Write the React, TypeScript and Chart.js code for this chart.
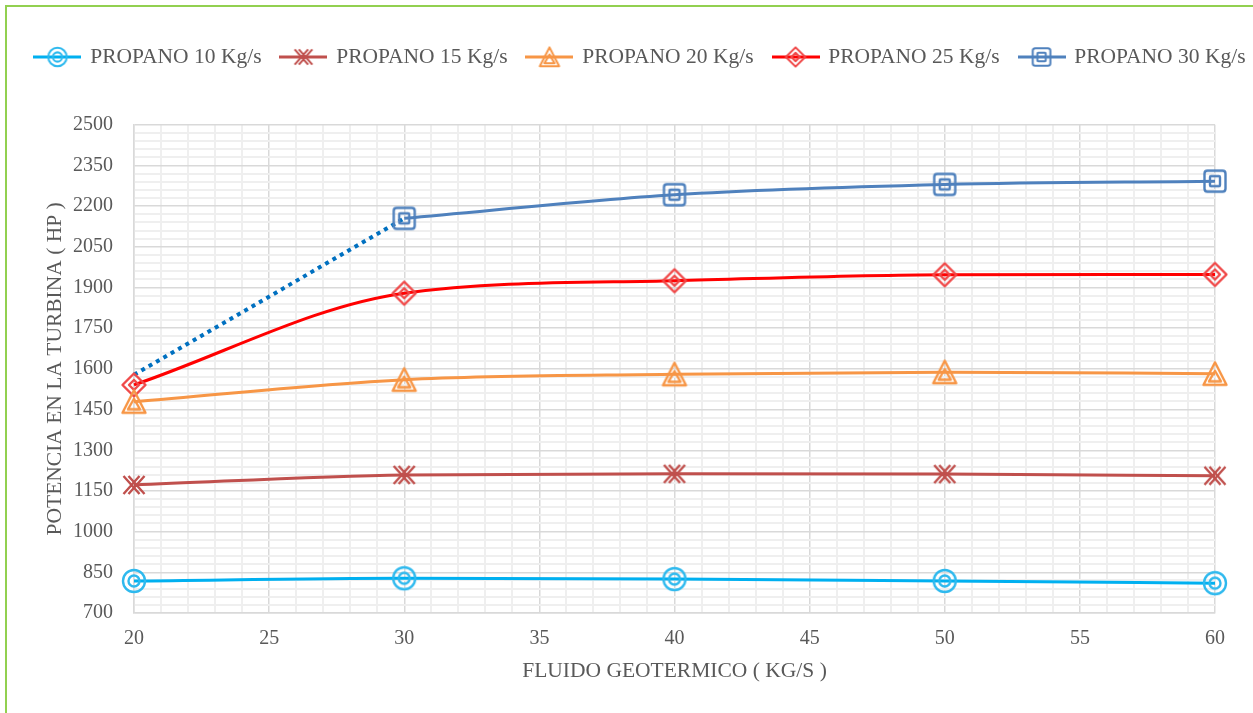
import React, { useEffect, useRef } from 'react';
import { Chart, registerables } from 'chart.js';

Chart.register(...registerables);

// ---- data ----
const fluido = [20, 30, 40, 50, 60];
const propano10 = [818, 828, 825, 818, 810];
const propano15 = [1172, 1209, 1213, 1212, 1206];
const propano20 = [1479, 1560, 1580, 1588, 1582];
const propano25 = [1541, 1879, 1925, 1947, 1948];
const propano30 = [null, 2155, 2242, 2280, 2292];
const propano30Tramo = [1578, 2155, null, null, null];

const seriesLabels = [
  'PROPANO 10 Kg/s',
  'PROPANO 15 Kg/s',
  'PROPANO 20 Kg/s',
  'PROPANO 25 Kg/s',
  'PROPANO 30 Kg/s',
];
const yTickLabels = [700, 850, 1000, 1150, 1300, 1450, 1600, 1750, 1900, 2050, 2200, 2350, 2500];
const xTickLabels = [20, 25, 30, 35, 40, 45, 50, 55, 60];
const yTitle = 'POTENCIA EN LA TURBINA ( HP )';
const xTitle = 'FLUIDO GEOTERMICO ( KG/S )';

// ---- styles ----
const FONT = "'Liberation Serif', 'Times New Roman', serif";
const TEXT = '#595959';
const GRID_MAJOR = '#d9d9d9';
const GRID_MINOR = '#efefef';
const lineColors = ['#00B0F0', '#C0504D', '#F79646', '#FF0000', '#4F81BD'];
const markerColors = ['#2EB9EE', '#C0504D', '#F79646', '#F04848', '#4F81BD'];
type Kind = 'circle' | 'star' | 'triangle' | 'diamond' | 'square';
const markerKinds: Kind[] = ['circle', 'star', 'triangle', 'diamond', 'square'];

function drawShape(ctx: CanvasRenderingContext2D, kind: Kind) {
  const poly = (pts: number[][]) => {
    ctx.beginPath();
    pts.forEach((p, i) => (i ? ctx.lineTo(p[0], p[1]) : ctx.moveTo(p[0], p[1])));
    ctx.closePath();
    ctx.stroke();
  };
  const rrect = (h: number, r: number) => {
    ctx.beginPath();
    ctx.moveTo(-h + r, -h);
    ctx.lineTo(h - r, -h);
    ctx.quadraticCurveTo(h, -h, h, -h + r);
    ctx.lineTo(h, h - r);
    ctx.quadraticCurveTo(h, h, h - r, h);
    ctx.lineTo(-h + r, h);
    ctx.quadraticCurveTo(-h, h, -h, h - r);
    ctx.lineTo(-h, -h + r);
    ctx.quadraticCurveTo(-h, -h, -h + r, -h);
    ctx.closePath();
    ctx.stroke();
  };
  switch (kind) {
    case 'circle':
      ctx.beginPath();
      ctx.arc(0, 0, 11, 0, Math.PI * 2);
      ctx.stroke();
      ctx.beginPath();
      ctx.arc(0, 0, 5.5, 0, Math.PI * 2);
      ctx.stroke();
      break;
    case 'star':
      for (const dx of [-2.5, 2.5]) {
        ctx.beginPath();
        ctx.moveTo(dx - 8, -9);
        ctx.lineTo(dx + 8, 9);
        ctx.moveTo(dx + 8, -9);
        ctx.lineTo(dx - 8, 9);
        ctx.stroke();
      }
      break;
    case 'triangle':
      poly([[0, -11.5], [11.5, 11], [-11.5, 11]]);
      poly([[0, -3], [6, 7.5], [-6, 7.5]]);
      break;
    case 'diamond':
      poly([[0, -11.5], [11.5, 0], [0, 11.5], [-11.5, 0]]);
      poly([[0, -5], [5, 0], [0, 5], [-5, 0]]);
      break;
    case 'square':
      rrect(10.5, 3);
      rrect(5, 1);
      break;
  }
}

function makeMarker(kind: Kind, color: string, scale: number, lineColor?: string, w = 32, h = 32) {
  const c = document.createElement('canvas');
  c.width = w;
  c.height = h;
  const ctx = c.getContext('2d')!;
  if (lineColor) {
    ctx.strokeStyle = lineColor;
    ctx.lineWidth = 3;
    ctx.beginPath();
    ctx.moveTo(0, h / 2);
    ctx.lineTo(w, h / 2);
    ctx.stroke();
  }
  ctx.translate(w / 2, h / 2);
  ctx.scale(scale, scale);
  ctx.strokeStyle = color;
  ctx.lineWidth = 2.4;
  ctx.lineJoin = 'round';
  drawShape(ctx, kind);
  return c;
}

const toPoints = (ys: (number | null)[]) =>
  fluido.map((x, i) => ({ x, y: ys[i] })).filter((p) => p.y !== null);

export default function App() {
  const ref = useRef<HTMLCanvasElement>(null);

  useEffect(() => {
    if (!ref.current) return;
    Chart.defaults.font.family = FONT;
    Chart.defaults.color = TEXT;

    const seriesData = [propano10, propano15, propano20, propano25, propano30];
    const plotMarkers = markerKinds.map((k, i) => makeMarker(k, markerColors[i], 1));
    const legendIcons = markerKinds.map((k, i) => makeMarker(k, markerColors[i], 0.84, lineColors[i], 48, 28));

    const datasets: any[] = seriesData.map((ys, i) => ({
      label: seriesLabels[i],
      data: toPoints(ys),
      borderColor: lineColors[i],
      backgroundColor: lineColors[i],
      borderWidth: 3,
      tension: 0.4,
      cubicInterpolationMode: 'monotone',
      pointStyle: plotMarkers[i],
      pointRadius: 10,
      pointHoverRadius: 10,
      clip: false,
    }));
    datasets.push({
      label: '',
      data: toPoints(propano30Tramo),
      borderColor: '#0070C0',
      borderWidth: 4,
      borderDash: [4, 4.5],
      pointRadius: 0,
      tension: 0,
      clip: false,
    });

    const chart = new Chart(ref.current, {
      type: 'line',
      data: { datasets },
      options: {
        animation: false,
        responsive: false,
        devicePixelRatio: 1,
        layout: { padding: { top: 26.25, left: 0, right: 0, bottom: 0 } },
        plugins: {
          legend: {
            position: 'top',
            labels: {
              usePointStyle: true,
              pointStyleWidth: 44,
              padding: 20,
              color: TEXT,
              font: { size: 21.5, family: FONT },
              generateLabels: (ch: any) =>
                Chart.defaults.plugins.legend.labels
                  .generateLabels(ch)
                  .filter((it: any) => it.datasetIndex < 5)
                  .map((it: any) => ({ ...it, pointStyle: legendIcons[it.datasetIndex] })),
            },
          },
          title: {
            display: true,
            text: '',
            weight: 500,
            font: { size: 10, lineHeight: 1 },
            padding: { top: 18.5, bottom: 18.5 },
          } as any,
          tooltip: { enabled: false },
        },
        scales: {
          x: {
            type: 'linear',
            min: 20,
            max: 60,
            afterFit: (s: any) => {
              s.height = 100;
            },
            ticks: {
              stepSize: 1,
              autoSkip: false,
              maxRotation: 0,
              minRotation: 0,
              padding: 14,
              color: TEXT,
              font: { size: 20 },
              callback: (v: any) => (xTickLabels.includes(Number(v)) ? String(v) : ''),
            },
            grid: {
              drawTicks: false,
              color: (c: any) => (c.tick && xTickLabels.includes(c.tick.value) ? GRID_MAJOR : GRID_MINOR),
              lineWidth: (c: any) => (c.tick && xTickLabels.includes(c.tick.value) ? 1.5 : 2),
            },
            border: { display: true, color: GRID_MAJOR, width: 1.5 },
            title: {
              display: true,
              text: xTitle,
              color: TEXT,
              font: { size: 21.5 },
              padding: { top: 0, bottom: 29 },
            },
          },
          y: {
            type: 'linear',
            min: 700,
            max: 2500,
            afterFit: (s: any) => {
              s.width = 134;
            },
            ticks: {
              stepSize: 30,
              autoSkip: false,
              padding: 21,
              color: TEXT,
              font: { size: 20 },
              callback: (v: any) => (yTickLabels.includes(Number(v)) ? String(v) : ''),
            },
            grid: {
              drawTicks: false,
              color: (c: any) => (c.tick && yTickLabels.includes(c.tick.value) ? GRID_MAJOR : GRID_MINOR),
              lineWidth: (c: any) => (c.tick && yTickLabels.includes(c.tick.value) ? 1.5 : 2),
            },
            border: { display: true, color: GRID_MAJOR, width: 1.5 },
            title: {
              display: true,
              text: yTitle,
              color: TEXT,
              font: { size: 21.5 },
              padding: { top: 42, bottom: 0 },
            },
          },
          yRight: {
            type: 'linear',
            position: 'right',
            display: true,
            afterFit: (s: any) => {
              s.width = 66;
            },
            ticks: { display: false },
            grid: { display: false, drawOnChartArea: false },
            border: { display: false },
          },
        },
      } as any,
    });
    return () => chart.destroy();
  }, []);

  return (
    <div
      style={{
        position: 'fixed',
        left: 0,
        top: 0,
        width: 1253,
        height: 713,
        overflow: 'hidden',
        background: '#ffffff',
      }}
    >
      <div
        style={{
          position: 'absolute',
          left: 5,
          top: 5,
          width: 1400,
          height: 900,
          borderLeft: '2px solid #92D050',
          borderTop: '2px solid #92D050',
        }}
      />
      <canvas
        ref={ref}
        width={1281}
        height={713}
        style={{ position: 'absolute', left: 0, top: 0, width: 1281, height: 713 }}
      />
    </div>
  );
}
